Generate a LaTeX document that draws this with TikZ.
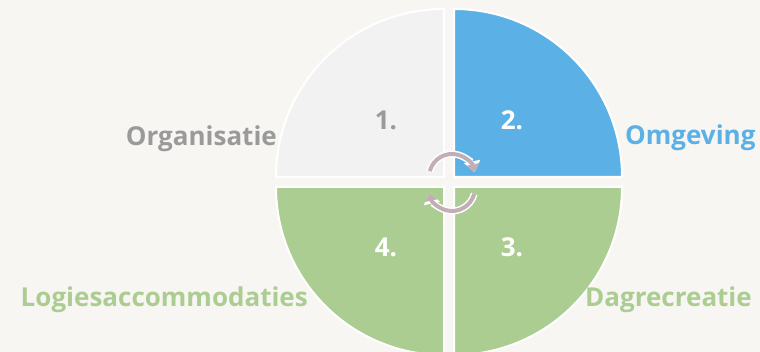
\documentclass[tikz,border=0pt]{standalone}
\usepackage{fontspec}
\setmainfont{Open Sans}
\usetikzlibrary{arrows.meta,positioning}
\definecolor{bgwarm}{HTML}{F8F6F3}
\definecolor{quadgrey}{HTML}{F2F2F2}
\definecolor{quadblue}{HTML}{5BB1E6}
\definecolor{quadgreen}{HTML}{ABCD91}
\definecolor{textgrey}{HTML}{9A9A9A}
\definecolor{turnmauve}{HTML}{C4AEB5}

\begin{document}
\begin{tikzpicture}[x=1pt,y=1pt,
 quarter/.style={draw=white,line width=2pt},
 num/.style={font=\fontsize{26}{28}\selectfont\bfseries,text=white,inner sep=0pt},
 sidelabel/.style={font=\fontsize{26}{28}\selectfont\bfseries,inner sep=0pt},
 turn/.style={draw=turnmauve,line width=4pt,-{Triangle[length=8pt,width=12pt]},
   preaction={draw=white,line width=7pt,-{Triangle[length=11pt,width=16pt]}}}]
\useasboundingbox (0,0) rectangle (760,352);
\fill[bgwarm] (0,0) rectangle (760,352);
%1
  \fill[quadgrey,quarter] (444,175) -- (444,343) arc[start angle=90,end angle=180,radius=168] -- cycle;
  \node[num,text=textgrey,anchor=base] (n1) at (386,222) {1.};
  \node[sidelabel,text=textgrey,anchor=base east] (org) at (277,206) {Organisatie};
%2
  \fill[quadblue,quarter] (454,175) -- (622,175) arc[start angle=0,end angle=90,radius=168] -- cycle;
  \node[num,anchor=base] (n2) at (512,222) {2.};
  \node[sidelabel,text=quadblue,anchor=base west] (omg) at (625,207) {Omgeving};
%3
  \fill[quadgreen,quarter] (454,165) -- (454,-3) arc[start angle=270,end angle=360,radius=168] -- cycle;
  \node[num,anchor=base] (n3) at (512,95) {3.};
  \node[sidelabel,text=quadgreen,anchor=base west] (dag) at (585,45) {Dagrecreatie};
%4
  \fill[quadgreen,quarter] (444,165) -- (276,165) arc[start angle=180,end angle=270,radius=168] -- cycle;
  \node[num,anchor=base] (n4) at (386,95) {4.};
  \node[sidelabel,text=quadgreen,anchor=base east] (logies) at (308,45) {Logiesaccommodaties};
%cycle
  \coordinate (hubtop) at (452,175);
  \coordinate (hubbottom) at (452,164);
  \draw[turn] ([shift={(165:23)}]hubtop) arc[start angle=165,end angle=12,radius=23];
  \draw[turn] ([shift={(-15:23)}]hubbottom) arc[start angle=-15,end angle=-168,radius=23];
\end{tikzpicture}
\end{document}
